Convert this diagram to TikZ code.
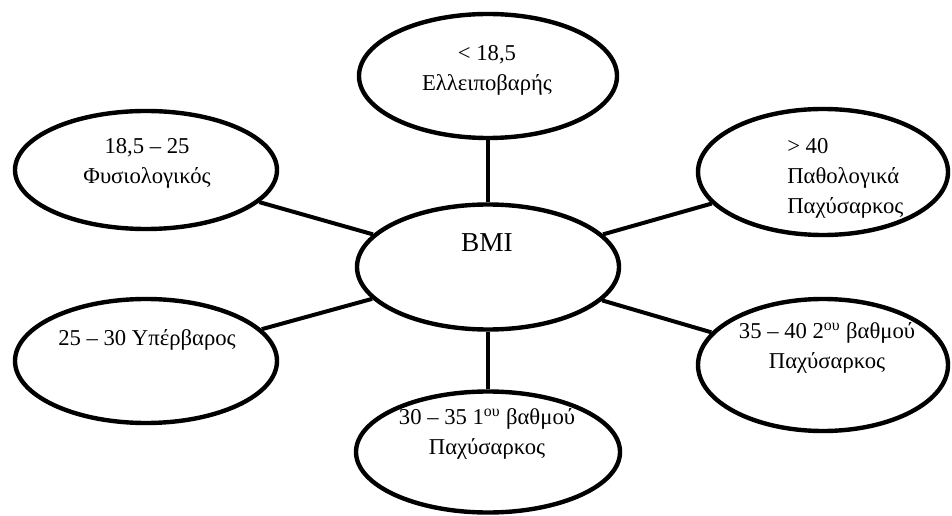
\documentclass[tikz,border=0pt]{standalone}
\usepackage{fontspec}
\setmainfont{Liberation Serif}
\usetikzlibrary{shapes.geometric}
\begin{document}
\begin{tikzpicture}[x=0.75pt,y=-0.75pt,
  bubble/.style={draw=black,line width=3.3pt,ellipse,inner sep=0pt,fill=white},
  lbl/.style={inner sep=0pt,align=center,font=\fontsize{17pt}{22.5pt}\selectfont},
  link/.style={draw=black,line width=3pt}]
\useasboundingbox (0,0) rectangle (952,516);
\fill[white] (0,0) rectangle (952,516);
% ellipses
\node[bubble,minimum width=258*0.75pt,minimum height=124*0.75pt] (top) at (488,76) {};
\node[bubble,minimum width=262*0.75pt,minimum height=118*0.75pt] (ul) at (146,170) {};
\node[bubble,minimum width=250*0.75pt,minimum height=126*0.75pt] (ur) at (823,172) {};
\node[bubble,minimum width=262*0.75pt,minimum height=125*0.75pt] (bmi) at (488,267) {};
\node[bubble,minimum width=262*0.75pt,minimum height=124*0.75pt] (ll) at (146,361) {};
\node[bubble,minimum width=250*0.75pt,minimum height=132*0.75pt] (lr) at (823,365) {};
\node[bubble,minimum width=264*0.75pt,minimum height=121*0.75pt] (bot) at (488,452) {};
% connectors
\draw[link] (bmi) -- (top);
\draw[link] (bmi) -- (ul);
\draw[link] (bmi) -- (ur);
\draw[link] (bmi) -- (ll);
\draw[link] (bmi) -- (lr);
\draw[link] (bmi) -- (bot);
% texts
\node[lbl] (ttop) at (487,70) {< 18,5\\Ελλειποβαρής};
\node[lbl] (tul) at (147,163) {18,5 – 25\\Φυσιολογικός};
\node[lbl,align=left,anchor=west] (tur) at (787,178) {> 40\\Παθολογικά\\Παχύσαρκος};
\node[lbl,font=\fontsize{20.5pt}{24pt}\selectfont] (tbmi) at (487,243) {BMI};
\node[lbl] (tll) at (147,340) {25 – 30 Υπέρβαρος};
\node[lbl] (tlr) at (827,348) {35 – 40 2\textsuperscript{ου} βαθμού\\Παχύσαρκος};
\node[lbl] (tbot) at (487,434) {30 – 35 1\textsuperscript{ου} βαθμού\\Παχύσαρκος};
\end{tikzpicture}
\end{document}
